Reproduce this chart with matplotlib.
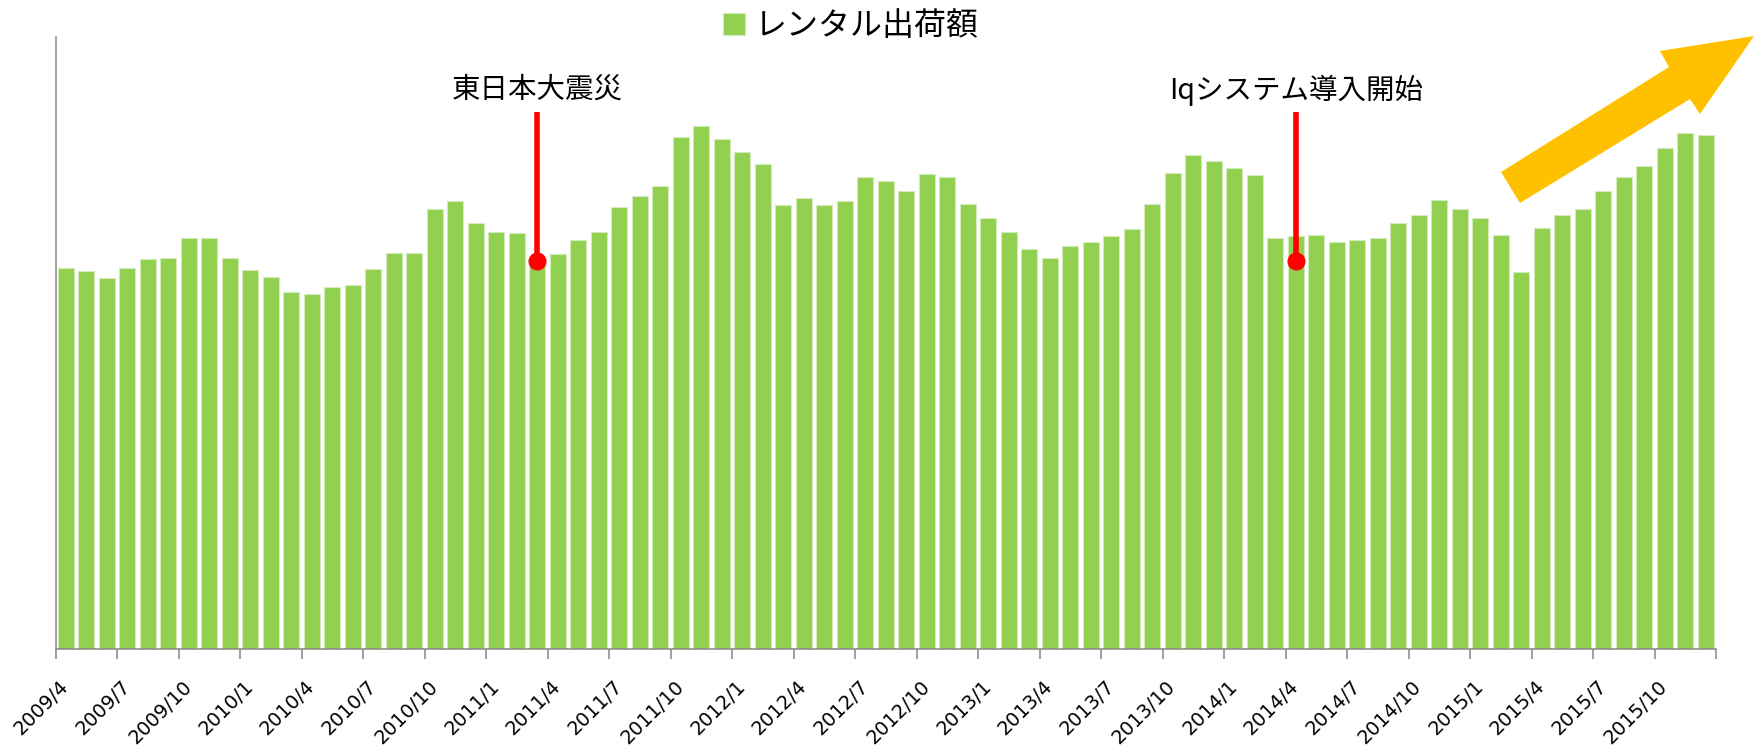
import numpy as np
import matplotlib
matplotlib.use("Agg")
import matplotlib.pyplot as plt
from matplotlib.patches import Polygon

# 月次レンタル出荷額 (2009/4 - 2015/12), 単位は任意
months = [f"{y}/{m}" for y in range(2009, 2016) for m in range(1, 13)][3:]
v2009 = [339, 336, 330, 339, 347, 348, 365, 365, 348]
v2010 = [337, 331, 317, 316, 322, 324, 338, 352, 352, 391, 398, 379]
v2011 = [371, 370, 343, 351, 364, 371, 393, 403, 412, 455, 465, 453]
v2012 = [442, 431, 395, 401, 395, 398, 420, 416, 407, 422, 420, 396]
v2013 = [383, 371, 356, 348, 358, 362, 367, 373, 396, 423, 439, 434]
v2014 = [428, 421, 365, 367, 368, 362, 364, 365, 379, 386, 399, 391]
v2015 = [383, 368, 335, 374, 386, 391, 407, 420, 429, 445, 459, 457]
values = v2009 + v2010 + v2011 + v2012 + v2013 + v2014 + v2015

events = ["東日本大震災", "Iqシステム導入開始"]
event_months = ["2011/3", "2014/4"]

jp = ["Noto Sans CJK JP", "DejaVu Sans"]
green = "#92D050"

fig = plt.figure(figsize=(17.62, 7.45), dpi=100)
ax = fig.add_axes([0.0316, 0.1289, 0.9423, 0.8214])

x = np.arange(len(values))
ax.bar(x, values, width=0.78, color=green, edgecolor="#d2ebbb", linewidth=0.8,
       label="レンタル出荷額")

ax.set_xlim(-0.5, len(values) - 0.5)
ax.set_ylim(0, 544)

# 目盛: 3か月ごと、境界に目盛線だけ
ax.set_xticks(np.arange(0, len(values) + 1, 3) - 0.5)
ax.set_xticklabels([])
ax.tick_params(axis="x", length=7, width=1.1, color="#868686")
ax.set_yticks([])

# ラベルは棒の中央に斜めに
for i in range(0, len(values), 3):
    ax.annotate(months[i], xy=(i, 0), xycoords=("data", "axes fraction"),
                xytext=(0, -25), textcoords="offset points",
                rotation=45, ha="right", va="center", rotation_mode="anchor",
                fontsize=14, family="DejaVu Sans")

for s in ["top", "right"]:
    ax.spines[s].set_visible(False)
for s in ["left", "bottom"]:
    ax.spines[s].set_color("#868686")
    ax.spines[s].set_linewidth(1.1)

# イベント
for name, m in zip(events, event_months):
    i = months.index(m)
    ax.plot([i, i], [345, 477], color="red", lw=4, solid_capstyle="butt", zorder=3)
    ax.plot(i, 345, "o", color="red", ms=12, zorder=4)
    ax.text(i, 497, name, ha="center", va="center", fontsize=20.5, family=jp)

ax.legend(loc="center", bbox_to_anchor=(851 / 1762, 1 - 26 / 745),
          bbox_transform=fig.transFigure, frameon=False, prop={"family": jp, "size": 23},
          handlelength=0.68, handleheight=0.68, handletextpad=0.3, borderpad=0)

# 右上の上昇矢印
W, H = 1762, 745
pts = [(1501, 172), (1669, 67), (1660, 51), (1754, 36), (1700, 114), (1690, 99), (1520, 203)]
arrow = Polygon([(px / W, 1 - py / H) for px, py in pts], closed=True,
                transform=fig.transFigure, facecolor="#FFC000", edgecolor="none")
fig.patches.append(arrow)

fig.savefig("out.png", dpi=100)
